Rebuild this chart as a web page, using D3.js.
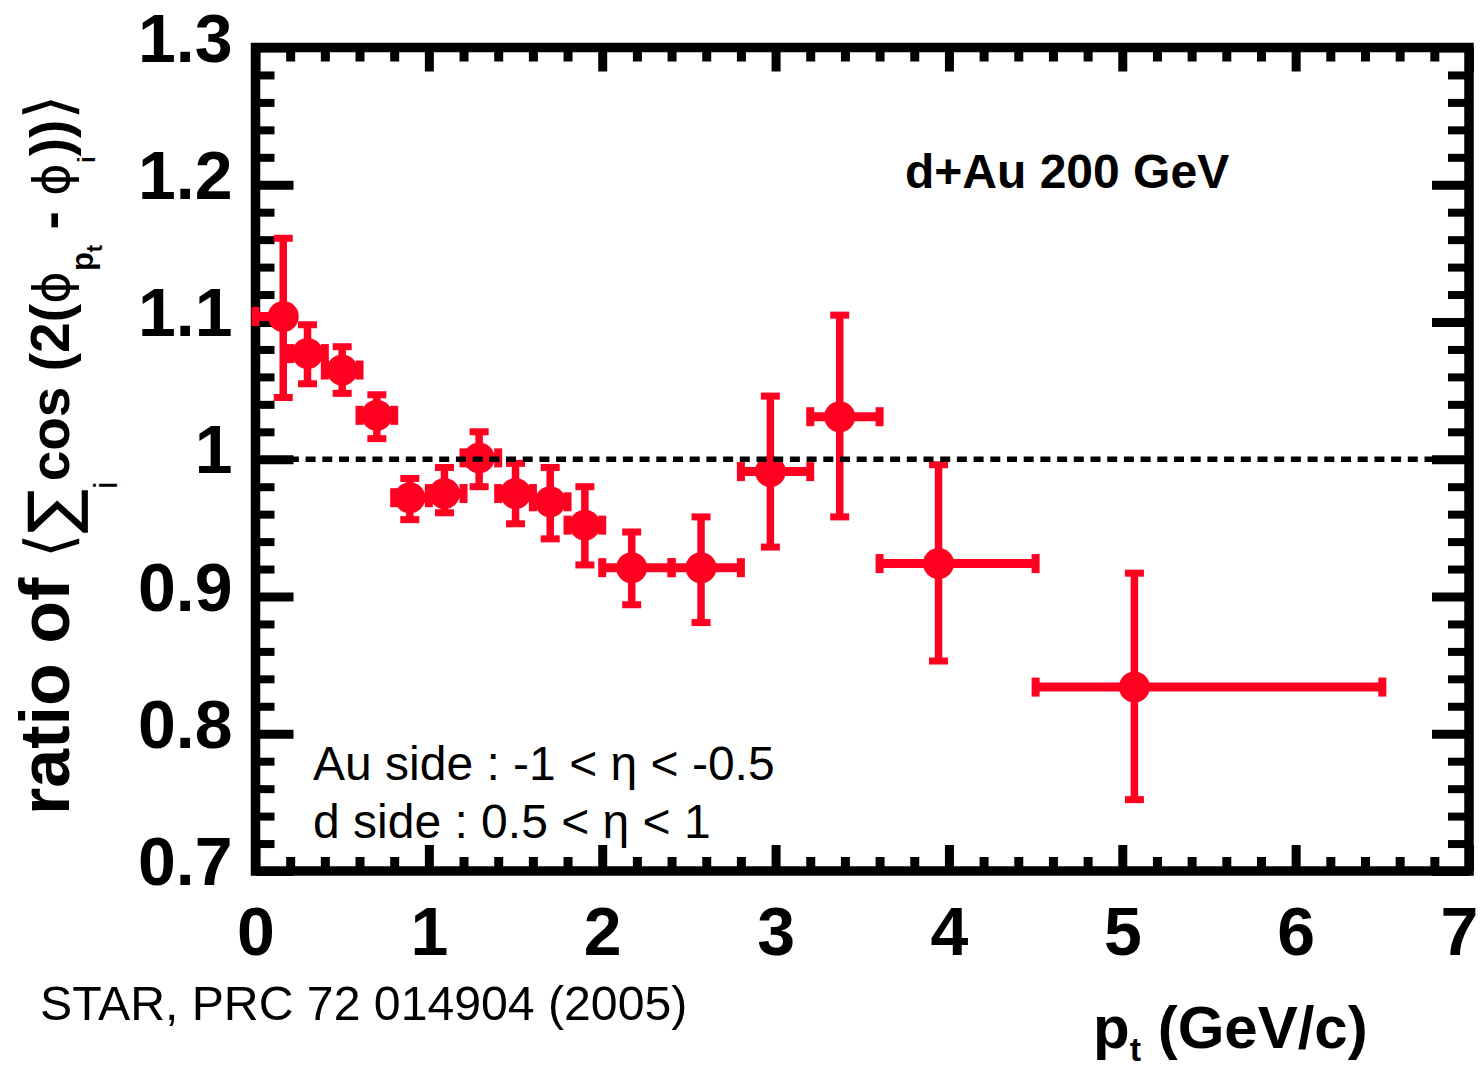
<!DOCTYPE html>
<html>
<head>
<meta charset="utf-8">
<script src="https://cdn.jsdelivr.net/npm/d3@7"></script>
<style>
  body { margin: 0; background: #fff; }
  svg { display: block; }
</style>
</head>
<body>
<svg id="chart" width="1480" height="1071"></svg>
<script>
// Ratio of the second-harmonic azimuthal correlator, d+Au at 200 GeV
const pt        = [0.16, 0.30, 0.50, 0.70, 0.89, 1.09, 1.29, 1.50, 1.70, 1.90, 2.17, 2.57, 2.97, 3.37, 3.94, 5.07];
const ptLow     = [0.00, 0.20, 0.40, 0.60, 0.80, 1.00, 1.20, 1.40, 1.60, 1.80, 2.00, 2.40, 2.80, 3.20, 3.60, 4.50];
const ptHigh    = [0.20, 0.40, 0.60, 0.80, 1.00, 1.20, 1.40, 1.60, 1.80, 2.00, 2.40, 2.80, 3.20, 3.60, 4.50, 6.50];
const ratio     = [1.104, 1.077, 1.065, 1.032, 0.972, 0.975, 1.001, 0.975, 0.969, 0.952, 0.921, 0.921, 0.991, 1.031, 0.924, 0.834];
const ratioLow  = [1.045, 1.055, 1.048, 1.015, 0.956, 0.961, 0.980, 0.953, 0.942, 0.923, 0.894, 0.881, 0.936, 0.958, 0.853, 0.752];
const ratioHigh = [1.161, 1.098, 1.082, 1.047, 0.986, 0.994, 1.020, 0.997, 0.994, 0.980, 0.947, 0.958, 1.046, 1.105, 0.996, 0.917];

const xTickValues = [0, 1, 2, 3, 4, 5, 6, 7];
const xTickLabels = ["0", "1", "2", "3", "4", "5", "6", "7"];
const yTickValues = [0.7, 0.8, 0.9, 1.0, 1.1, 1.2, 1.3];
const yTickLabels = ["0.7", "0.8", "0.9", "1", "1.1", "1.2", "1.3"];
const refLevel = 1.0;

const FONT = "'Liberation Sans', Arial, Helvetica, sans-serif";
const SYM = "'DejaVu Sans', sans-serif";
const RED = "#ff0020";

const svg = d3.select("#chart");
svg.append("rect").attr("width", 1480).attr("height", 1071).attr("fill", "#fff");

const x = d3.scaleLinear().domain([0, 7]).range([255.5, 1469]);
const y = d3.scaleLinear().domain([0.7, 1.3]).range([871, 47.5]);

const xMinor = d3.range(0, 35).map(i => i * 0.2).filter(v => Math.abs(v - Math.round(v)) > 1e-6);
const yMinor = d3.range(0, 31).map(i => 0.7 + i * 0.02).filter(v => Math.abs(v * 10 - Math.round(v * 10)) > 1e-6);

function styleAxis(g, width) {
  g.select(".domain").remove();
  g.selectAll(".tick line").attr("stroke", "#000").attr("stroke-width", width);
  g.selectAll(".tick text")
    .attr("fill", "#000")
    .style("font-family", FONT)
    .style("font-weight", "bold")
    .style("font-size", "68px");
}

// bottom axis: majors with labels, then minors
svg.append("g").attr("transform", `translate(0,${y.range()[0]})`)
  .call(d3.axisBottom(x).tickValues(xTickValues).tickSize(-26).tickPadding(36)
    .tickFormat((d, i) => xTickLabels[i]))
  .call(g => styleAxis(g, 9))
  .call(g => g.selectAll(".tick text").filter(d => d === 7).attr("dx", -10));
svg.append("g").attr("transform", `translate(0,${y.range()[0]})`)
  .call(d3.axisBottom(x).tickValues(xMinor).tickSize(-14).tickFormat(""))
  .call(g => styleAxis(g, 9));

// top axis
svg.append("g").attr("transform", `translate(0,${y.range()[1]})`)
  .call(d3.axisTop(x).tickValues(xTickValues).tickSize(-24).tickFormat(""))
  .call(g => styleAxis(g, 9));
svg.append("g").attr("transform", `translate(0,${y.range()[1]})`)
  .call(d3.axisTop(x).tickValues(xMinor).tickSize(-14).tickFormat(""))
  .call(g => styleAxis(g, 9));

// left axis with labels
svg.append("g").attr("transform", `translate(${x.range()[0]},0)`)
  .call(d3.axisLeft(y).tickValues(yTickValues).tickSize(-38).tickPadding(23)
    .tickFormat((d, i) => yTickLabels[i]))
  .call(g => styleAxis(g, 9))
  .call(g => g.selectAll(".tick text").attr("dy", "0.2em"));
svg.append("g").attr("transform", `translate(${x.range()[0]},0)`)
  .call(d3.axisLeft(y).tickValues(yMinor).tickSize(-19).tickFormat(""))
  .call(g => styleAxis(g, 8));

// right axis
svg.append("g").attr("transform", `translate(${x.range()[1]},0)`)
  .call(d3.axisRight(y).tickValues(yTickValues).tickSize(-37).tickFormat(""))
  .call(g => styleAxis(g, 9));
svg.append("g").attr("transform", `translate(${x.range()[1]},0)`)
  .call(d3.axisRight(y).tickValues(yMinor).tickSize(-21).tickFormat(""))
  .call(g => styleAxis(g, 8));

// frame
svg.append("rect")
  .attr("x", x.range()[0]).attr("y", y.range()[1])
  .attr("width", x.range()[1] - x.range()[0])
  .attr("height", y.range()[0] - y.range()[1])
  .attr("fill", "none").attr("stroke", "#000").attr("stroke-width", 9.5);

// data points with error bars
const points = pt.map((p, i) => ({
  x: p, lo: ptLow[i], hi: ptHigh[i], v: ratio[i], vlo: ratioLow[i], vhi: ratioHigh[i]
}));
const dataG = svg.append("g").attr("fill", RED).attr("stroke", RED);
const pg = dataG.selectAll("g.pt").data(points).join("g").attr("class", "pt");
pg.append("line")
  .attr("x1", d => x(d.x)).attr("x2", d => x(d.x))
  .attr("y1", d => y(d.vlo)).attr("y2", d => y(d.vhi))
  .attr("stroke-width", 7.5);
pg.append("line")
  .attr("x1", d => x(d.lo)).attr("x2", d => x(d.hi))
  .attr("y1", d => y(d.v)).attr("y2", d => y(d.v))
  .attr("stroke-width", 9);
// caps on the vertical bars
[d => d.vlo, d => d.vhi].forEach(f => {
  pg.append("rect")
    .attr("x", d => x(d.x) - 9.5).attr("y", d => y(f(d)) - 3.5)
    .attr("width", 19).attr("height", 7).attr("stroke", "none");
});
// caps on the horizontal bars
[d => d.lo, d => d.hi].forEach(f => {
  pg.append("rect")
    .attr("x", d => x(f(d)) - 4).attr("y", d => y(d.v) - 9.5)
    .attr("width", 8).attr("height", 19).attr("stroke", "none");
});
pg.append("circle")
  .attr("cx", d => x(d.x)).attr("cy", d => y(d.v))
  .attr("r", 15.5).attr("stroke", "none");

// reference line at unity
svg.append("line")
  .attr("x1", x(0)).attr("x2", x(7))
  .attr("y1", y(refLevel)).attr("y2", y(refLevel))
  .attr("stroke", "#000").attr("stroke-width", 5.5)
  .attr("stroke-dasharray", "10 6.7");

// text helper: segments with their own size / weight / baseline shift
function richText(parent, segs, attrs) {
  const t = parent.append("text").attr("fill", "#000");
  Object.entries(attrs || {}).forEach(([k, v]) => t.attr(k, v));
  let cur = 0;
  segs.forEach(s => {
    const shift = s.shift || 0;
    const sp = t.append("tspan").text(s.t)
      .attr("dy", shift - cur)
      .style("font-size", s.size + "px")
      .style("font-weight", s.weight || "bold")
      .style("font-family", s.family || FONT);
    if (s.dx) sp.attr("dx", s.dx);
    cur = shift;
  });
  return t;
}

// y-axis title
const ylab = svg.append("g").attr("transform", "translate(69,815) rotate(-90)");
richText(ylab, [
  { t: "ratio of ", size: 70 },
  { t: "\u27E8", size: 64, weight: "normal", family: SYM, shift: 2 },
  { t: "\u2211", size: 66, weight: "normal", family: SYM, shift: 6 },
  { t: "i", size: 34, weight: "normal", shift: 48 },
  { t: "cos (2(", size: 55 },
  { t: "\u03D5", size: 50, weight: "normal", family: SYM },
  { t: "p", size: 31, shift: 24 },
  { t: "t", size: 22, shift: 33 },
  { t: " - ", size: 55 },
  { t: "\u03D5", size: 50, weight: "normal", family: SYM },
  { t: "i", size: 24, shift: 26 },
  { t: "))", size: 55 },
  { t: "\u27E9", size: 64, weight: "normal", family: SYM, shift: 2 }
]);

// x-axis title
richText(svg, [
  { t: "p", size: 60 },
  { t: "t", size: 34, shift: 13 },
  { t: " (GeV/c)", size: 60 }
], { x: 1093, y: 1048 });

// annotations
svg.append("text").attr("x", 905).attr("y", 188)
  .style("font-family", FONT).style("font-weight", "bold").style("font-size", "48px")
  .text("d+Au 200 GeV");
svg.append("text").attr("x", 313).attr("y", 780)
  .style("font-family", FONT).style("font-size", "48px")
  .text("Au side : -1 < \u03B7 < -0.5");
svg.append("text").attr("x", 313).attr("y", 838)
  .style("font-family", FONT).style("font-size", "48px")
  .text("d side : 0.5 < \u03B7 < 1");
svg.append("text").attr("x", 40).attr("y", 1020)
  .style("font-family", FONT).style("font-size", "48.2px")
  .text("STAR, PRC 72 014904 (2005)");
</script>
</body>
</html>
